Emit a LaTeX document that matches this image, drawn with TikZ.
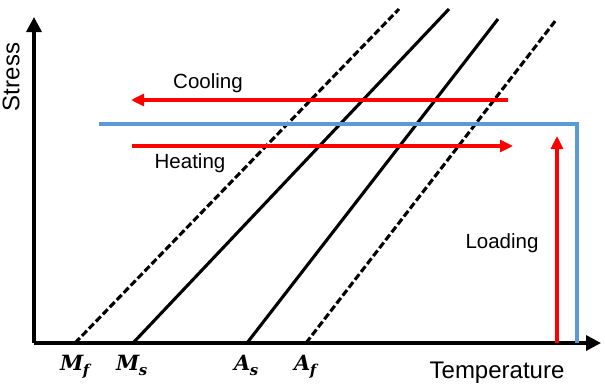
\documentclass[tikz,border=0pt]{standalone}
\usepackage{fontspec}
\setmainfont{Liberation Sans}
\newfontfamily\symserif{DejaVu Serif}
\usetikzlibrary{arrows.meta}
\definecolor{lred}{HTML}{FF0000}
\definecolor{lblue}{HTML}{5B9BD5}
\newcommand{\tempsym}[2]{{\symserif\bfseries\itshape\fontsize{21}{24}\selectfont #1\kern-0.5pt\raisebox{-5.5pt}{\fontsize{15}{17}\selectfont #2}}}
\tikzset{
  axisline/.style={line width=3.4pt, -{Triangle[length=15pt,width=15pt]}},
  trans/.style={line width=3.1pt, black},
  transdash/.style={trans, dash pattern=on 7pt off 3pt},
  redarrow/.style={line width=3.1pt, lred, -{Triangle[length=13pt,width=12pt]}},
  blueline/.style={line width=3.1pt, lblue},
  lbl/.style={font=\fontsize{20.5}{24}\selectfont, inner sep=0pt},
  axlbl/.style={font=\fontsize{24}{28}\selectfont, inner sep=0pt},
  tlbl/.style={inner sep=0pt, anchor=base west},
}
\begin{document}
\begin{tikzpicture}[x=1pt,y=-1pt]
\useasboundingbox (0,0) rectangle (605,386);
% axes
\coordinate (O) at (34,343);
\coordinate (ytip) at (34,17);
\coordinate (xtip) at (601,343);
\draw[axisline] (O) -- (ytip);
\draw[axisline] (O) -- (xtip);
% transformation lines
\coordinate (mfb) at (75,343);  \coordinate (mft) at (399,9);
\coordinate (msb) at (133,343); \coordinate (mst) at (449,9);
\coordinate (asb) at (247,343); \coordinate (ast) at (498,19);
\coordinate (afb) at (306,343); \coordinate (aft) at (556,20);
\draw[transdash] (mfb) -- (mft);
\draw[trans] (msb) -- (mst);
\draw[trans] (asb) -- (ast);
\draw[transdash] (afb) -- (aft);
% blue load path
\coordinate (b1) at (99,124);
\coordinate (b2) at (577,124);
\coordinate (b3) at (577,343);
\draw[blueline] (b1) -- (b2) -- (b3);
% red arrows
\coordinate (c1) at (508,100); \coordinate (c2) at (131,100);
\draw[redarrow] (c1) -- (c2);
\coordinate (h1) at (132,146); \coordinate (h2) at (513,146);
\draw[redarrow] (h1) -- (h2);
\coordinate (l1) at (557,343); \coordinate (l2) at (557,136);
\draw[redarrow] (l1) -- (l2);
% labels
\node[lbl] (cool) at (208,83) {Cooling};
\node[lbl] (heat) at (190,163) {Heating};
\node[lbl] (load) at (502,243) {Loading};
\node[axlbl, rotate=90] (stress) at (11,77) {Stress};
\node[axlbl] (temp) at (497,373) {Temperature};
\node[tlbl] (Mf) at (60,370) {\tempsym{M}{f}};
\node[tlbl] (Ms) at (116,370) {\tempsym{M}{s}};
\node[tlbl] (As) at (234,370) {\tempsym{A}{s}};
\node[tlbl] (Af) at (294,370) {\tempsym{A}{f}};
\end{tikzpicture}
\end{document}
